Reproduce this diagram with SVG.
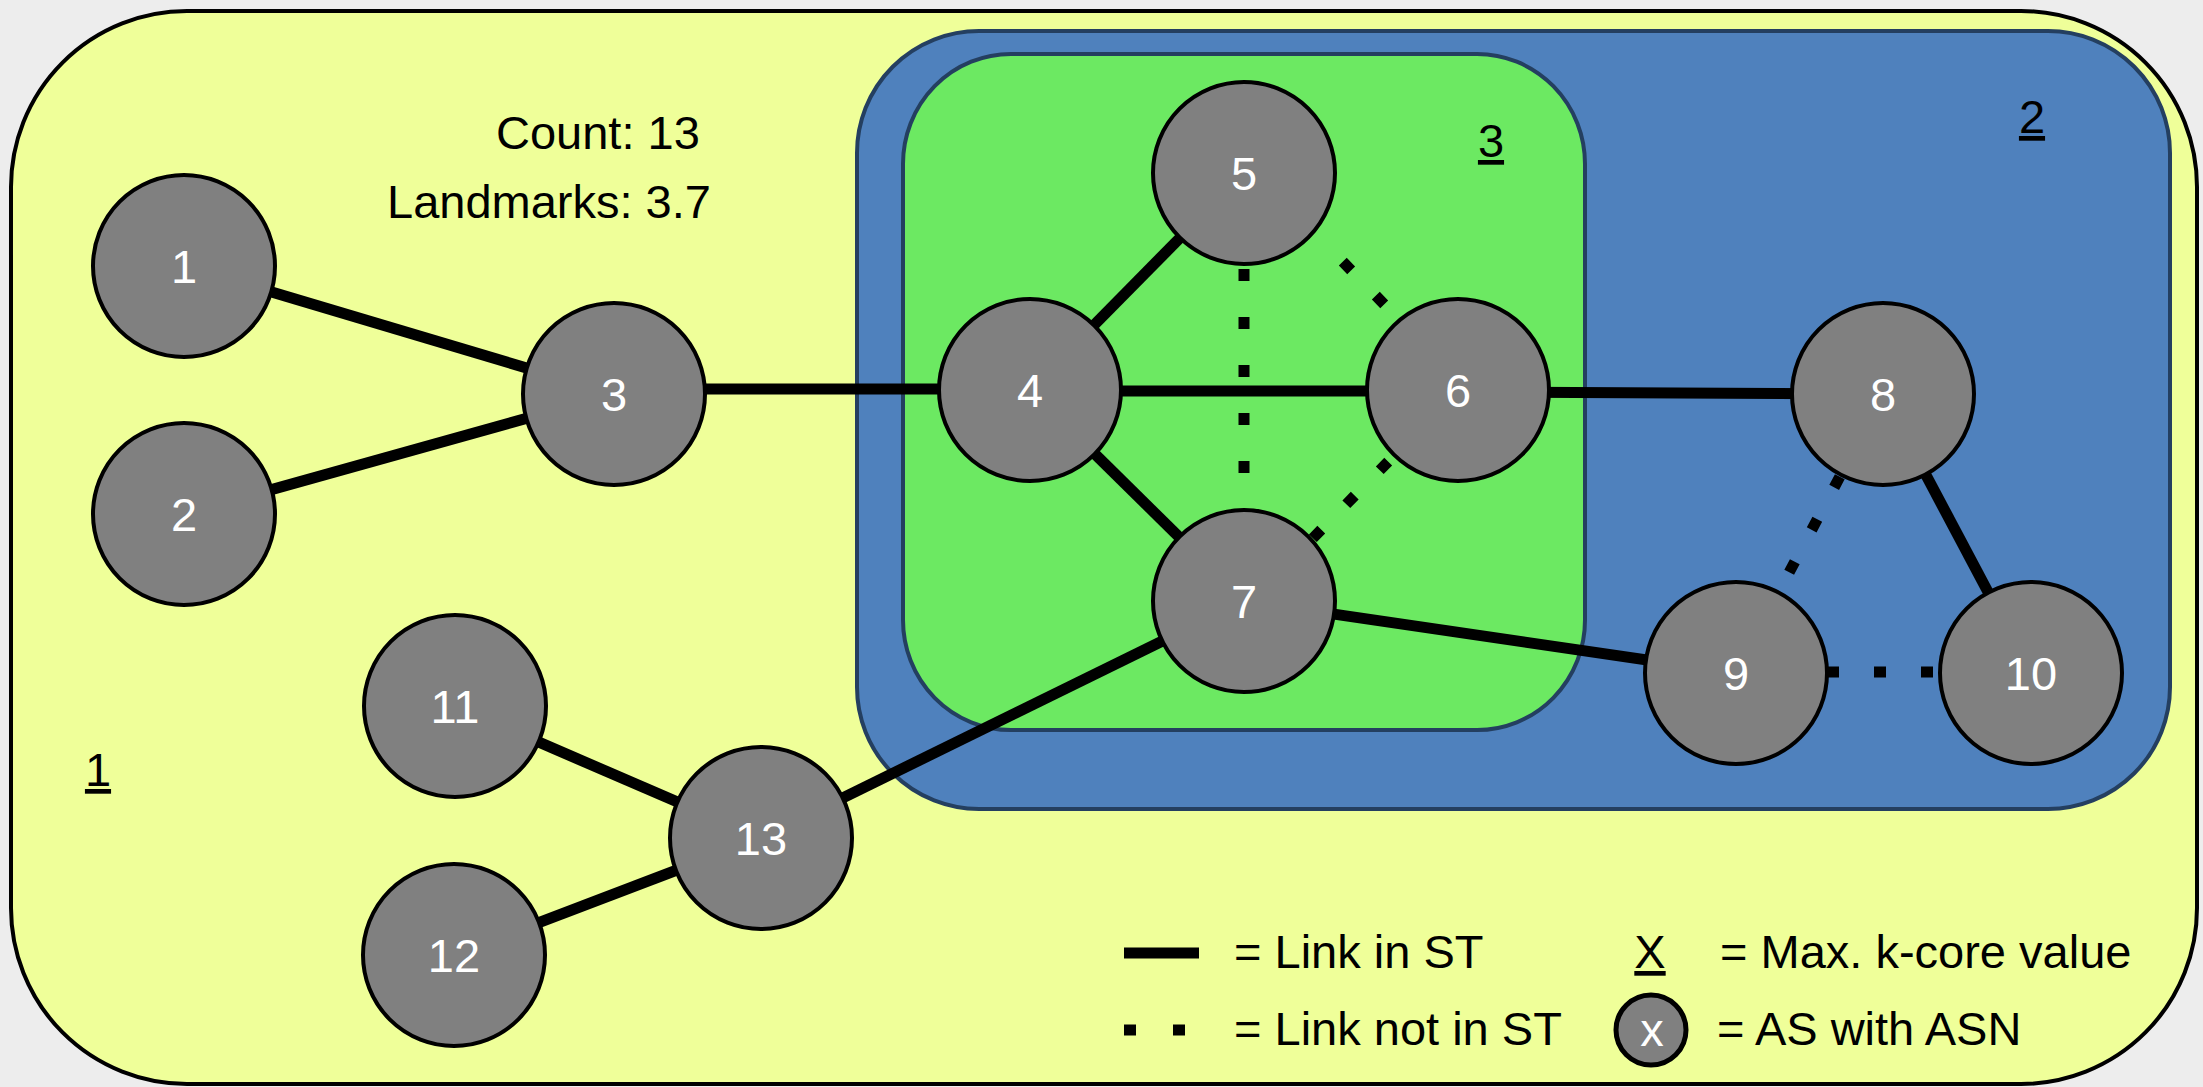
<svg xmlns="http://www.w3.org/2000/svg" width="2203" height="1087" viewBox="0 0 2203 1087">
  <style>
    text { font-family: "Liberation Sans", Arial, sans-serif; font-size: 47px; }
    .as circle { fill: #808080; stroke: #000; stroke-width: 4; }
    .as text { fill: #fff; text-anchor: middle; }
    .st { stroke: #000; stroke-width: 11; fill: none; }
    .nst { stroke: #000; stroke-width: 11; fill: none; stroke-dasharray: 12 36; }
    .core { fill: #000; text-anchor: middle; text-decoration: underline; }
  </style>

  <!-- page background -->
  <rect x="0" y="0" width="2203" height="1087" fill="#ededed"/>

  <!-- k-core shells -->
  <g id="core-1">
    <rect x="11" y="11" width="2186" height="1073" rx="176" ry="176" fill="#efff99" stroke="#000" stroke-width="4"/>
  </g>
  <g id="core-2">
    <rect x="857" y="31" width="1313" height="778" rx="122" ry="122" fill="#4f81bd" stroke="#243f60" stroke-width="4"/>
  </g>
  <g id="core-3">
    <rect x="903" y="54" width="682" height="676" rx="108" ry="110" fill="#6ce962" stroke="#243f60" stroke-width="4"/>
  </g>

  <!-- links -->
  <g id="links">
    <line class="st" x1="184" y1="266" x2="614" y2="394"/>
    <line class="st" x1="184" y1="514" x2="614" y2="394"/>
    <line class="st" x1="614" y1="389" x2="1030" y2="389"/>
    <line class="st" x1="1030" y1="390" x2="1244" y2="173"/>
    <line class="st" x1="1030" y1="391" x2="1458" y2="391"/>
    <line class="st" x1="1030" y1="390" x2="1244" y2="601"/>
    <line class="st" x1="1458" y1="392" x2="1883" y2="394"/>
    <line class="st" x1="1244" y1="601" x2="1736" y2="673"/>
    <line class="st" x1="1883" y1="394" x2="2031" y2="673"/>
    <line class="st" x1="761" y1="838" x2="1244" y2="601"/>
    <line class="st" x1="455" y1="706" x2="761" y2="838"/>
    <line class="st" x1="454" y1="955" x2="761" y2="838"/>
    <!-- links not in the spanning tree -->
    <line class="nst" x1="1244" y1="269" x2="1244" y2="521"/>
    <line class="nst" x1="1342.8" y1="261.7" x2="1384.2" y2="304.3" style="stroke-dasharray:12 35.4"/>
    <line class="nst" x1="1388.2" y1="461.7" x2="1312.8" y2="538.3" style="stroke-dasharray:12 35.7"/>
    <line class="nst" x1="1839.8" y1="476.7" x2="1789.2" y2="572.3" style="stroke-dasharray:12 36.1"/>
    <line class="nst" x1="1827" y1="672" x2="1933" y2="672" style="stroke-dasharray:12 35"/>
  </g>

  <!-- autonomous systems -->
  <g id="as1" class="as"><circle cx="184" cy="266" r="91"/><text x="184" y="283">1</text></g>
  <g id="as2" class="as"><circle cx="184" cy="514" r="91"/><text x="184" y="531">2</text></g>
  <g id="as3" class="as"><circle cx="614" cy="394" r="91"/><text x="614" y="411">3</text></g>
  <g id="as4" class="as"><circle cx="1030" cy="390" r="91"/><text x="1030" y="407">4</text></g>
  <g id="as5" class="as"><circle cx="1244" cy="173" r="91"/><text x="1244" y="190">5</text></g>
  <g id="as6" class="as"><circle cx="1458" cy="390" r="91"/><text x="1458" y="407">6</text></g>
  <g id="as7" class="as"><circle cx="1244" cy="601" r="91"/><text x="1244" y="618">7</text></g>
  <g id="as8" class="as"><circle cx="1883" cy="394" r="91"/><text x="1883" y="411">8</text></g>
  <g id="as9" class="as"><circle cx="1736" cy="673" r="91"/><text x="1736" y="690">9</text></g>
  <g id="as10" class="as"><circle cx="2031" cy="673" r="91"/><text x="2031" y="690">10</text></g>
  <g id="as11" class="as"><circle cx="455" cy="706" r="91"/><text x="455" y="723">11</text></g>
  <g id="as12" class="as"><circle cx="454" cy="955" r="91"/><text x="454" y="972">12</text></g>
  <g id="as13" class="as"><circle cx="761" cy="838" r="91"/><text x="761" y="855">13</text></g>

  <!-- k-core values -->
  <text class="core" x="98" y="786">1</text>
  <text class="core" x="2032" y="133">2</text>
  <text class="core" x="1491" y="157">3</text>

  <!-- statistics -->
  <g id="stats">
    <text x="496" y="149">Count: 13</text>
    <text x="387" y="218">Landmarks: 3.7</text>
  </g>

  <!-- legend -->
  <g id="legend">
    <line class="st" x1="1124" y1="953" x2="1199" y2="953"/>
    <text x="1234" y="968">= Link in ST</text>
    <line class="nst" x1="1124" y1="1030" x2="1185" y2="1030" style="stroke-dasharray:12 37"/>
    <text x="1234" y="1045">= Link not in ST</text>
    <text class="core" x="1650" y="968">X</text>
    <text x="1720" y="968">= Max. k-core value</text>
    <circle cx="1651" cy="1030" r="35" fill="#808080" stroke="#000" stroke-width="5"/>
    <text x="1652" y="1046" fill="#fff" text-anchor="middle">x</text>
    <text x="1717" y="1045">= AS with ASN</text>
  </g>
</svg>
